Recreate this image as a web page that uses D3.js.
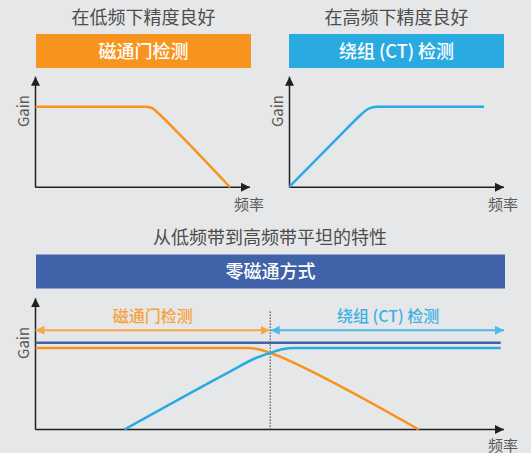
<!DOCTYPE html>
<html>
<head>
<meta charset="utf-8">
<script src="https://cdn.jsdelivr.net/npm/d3@7"></script>
<style>
  html, body { margin: 0; padding: 0; background: #e6e7e8; }
  svg { display: block; }
  text { font-family: "Noto Sans CJK SC", "Noto Sans", sans-serif; }
</style>
</head>
<body>
<div id="chart"></div>
<script>
// ---- data (frequency 0..100, gain 0..100) ----
var panel_titles = ["在低频下精度良好", "在高频下精度良好", "从低频带到高频带平坦的特性"];
var box_labels = ["磁通门检测", "绕组 (CT) 检测", "零磁通方式"];
var range_labels = ["磁通门检测", "绕组 (CT) 检测"];
var axis_labels = { y: "Gain", x: "频率" };

var fluxgate_top = [[0, 72.9], [51, 72.9], [54.3, 71.7], [57.1, 67.2], [67.4, 47.3], [90.7, 0]];
var ct_top = [[0, 0.7], [25.9, 51.4], [32.9, 64.9], [36.6, 70.8], [40.8, 72.9], [90.7, 72.9]];

var zero_flux = [[0, 66.2], [99.3, 66.2]];
var fluxgate_bottom = [[0, 62.1], [45.4, 62.1], [47.9, 61.0], [50.1, 58.3], [52.6, 55.0], [55.4, 50.4], [81.8, 0]];
var ct_bottom = [[19.0, 0], [41.5, 44.1], [46.9, 54.3], [50.1, 58.3], [52.6, 61.1], [55.4, 62.1], [99.3, 62.1]];
var crossover = 50.1;   // frequency where the two methods hand over
var range_end = 100;

var orange = "#f7941d";
var blue = "#29abe2";
var navy = "#4062a8";

var width = 531, height = 453;

var svg = d3.select("#chart").append("svg")
    .attr("width", width)
    .attr("height", height);

svg.append("rect").attr("width", width).attr("height", height).attr("fill", "#e6e7e8");

// arrow heads
var defs = svg.append("defs");
var add_marker = function(id, color, w, h) {
  defs.append("marker")
      .attr("id", id)
      .attr("viewBox", "0 0 10 10")
      .attr("refX", 10)
      .attr("refY", 5)
      .attr("markerUnits", "userSpaceOnUse")
      .attr("markerWidth", w)
      .attr("markerHeight", h)
      .attr("orient", "auto-start-reverse")
    .append("path")
      .attr("d", "M0,0 L10,5 L0,10 Z")
      .attr("fill", color);
}
add_marker("axis-arrow", "#231f20", 9, 10);
add_marker("orange-arrow", "#f8a747", 9, 10);
add_marker("blue-arrow", "#4fb9e7", 9, 10);

// *** PANELS *** //
var panels = [
  { x0: 35.5, x1: 250, y0: 187.3, y1: 76.7, title_x: 143.5, title_y: 24, box: [36, 34, 215, 34], box_color: orange, box_label_y: 58, xlab_y: 209.5 },
  { x0: 289.5, x1: 504, y0: 187.3, y1: 76.7, title_x: 396.5, title_y: 24, box: [289, 34, 215, 34], box_color: blue, box_label_y: 58, xlab_y: 209.5 },
  { x0: 35.5, x1: 504, y0: 429.5, y1: 298.3, title_x: 270, title_y: 244, box: [36, 254.5, 469, 34], box_color: navy, box_label_y: 278, xlab_y: 450.5 }
];

var line = d3.line().curve(d3.curveMonotoneX);

panels.forEach(function(p, i) {
  p.x = d3.scaleLinear().domain([0, 100]).range([p.x0, p.x1]);
  p.y = d3.scaleLinear().domain([0, 100]).range([p.y0, p.y1]);

  svg.append("text")
      .attr("x", p.title_x)
      .attr("y", p.title_y)
      .attr("text-anchor", "middle")
      .attr("font-size", 18)
      .attr("fill", "#4d4d4d")
      .text(panel_titles[i]);

  svg.append("rect")
      .attr("x", p.box[0]).attr("y", p.box[1])
      .attr("width", p.box[2]).attr("height", p.box[3])
      .attr("fill", p.box_color);

  svg.append("text")
      .attr("x", p.box[0] + p.box[2] / 2)
      .attr("y", p.box_label_y)
      .attr("text-anchor", "middle")
      .attr("font-size", 18)
      .attr("font-weight", 500)
      .attr("fill", "#ffffff")
      .text(box_labels[i]);

  // axes
  svg.append("line")
      .attr("x1", p.x(0)).attr("y1", p.y(0))
      .attr("x2", p.x(0)).attr("y2", p.y(100))
      .attr("stroke", "#231f20").attr("stroke-width", 1.5)
      .attr("marker-end", "url(#axis-arrow)");
  svg.append("line")
      .attr("x1", p.x(0)).attr("y1", p.y(0))
      .attr("x2", p.x(100)).attr("y2", p.y(0))
      .attr("stroke", "#231f20").attr("stroke-width", 1.5)
      .attr("marker-end", "url(#axis-arrow)");

  svg.append("text")
      .attr("transform", "translate(" + (p.x0 - 7) + "," + ((p.y0 + p.y1) / 2 - 21) + ") rotate(-90)")
      .attr("text-anchor", "middle")
      .attr("font-size", 15)
      .attr("fill", "#595959")
      .text(axis_labels.y);

  svg.append("text")
      .attr("x", p.x1 - 1)
      .attr("y", p.xlab_y)
      .attr("text-anchor", "middle")
      .attr("font-size", 15)
      .attr("fill", "#595959")
      .text(axis_labels.x);
});

var draw_curve = function(p, data, color) {
  svg.append("path")
      .datum(data)
      .attr("d", line.x(function(d) { return p.x(d[0]); }).y(function(d) { return p.y(d[1]); }))
      .attr("fill", "none")
      .attr("stroke", color)
      .attr("stroke-width", 2.5);
}

draw_curve(panels[0], fluxgate_top, orange);
draw_curve(panels[1], ct_top, blue);

// bottom panel
var pb = panels[2];

svg.append("line")
    .attr("x1", pb.x(crossover)).attr("x2", pb.x(crossover))
    .attr("y1", pb.y(90)).attr("y2", pb.y(0))
    .attr("stroke", "#333333").attr("stroke-width", 1)
    .attr("stroke-dasharray", "1.5,1.5");

draw_curve(pb, zero_flux, navy);
draw_curve(pb, fluxgate_bottom, orange);
draw_curve(pb, ct_bottom, blue);

var arrow_y = pb.y(75.6);
svg.append("line")
    .attr("x1", pb.x(0)).attr("x2", pb.x(crossover) - 0.5)
    .attr("y1", arrow_y).attr("y2", arrow_y)
    .attr("stroke", "#f8a747").attr("stroke-width", 2)
    .attr("marker-start", "url(#orange-arrow)")
    .attr("marker-end", "url(#orange-arrow)");
svg.append("line")
    .attr("x1", pb.x(crossover) + 0.5).attr("x2", pb.x(range_end))
    .attr("y1", arrow_y).attr("y2", arrow_y)
    .attr("stroke", "#4fb9e7").attr("stroke-width", 2)
    .attr("marker-start", "url(#blue-arrow)")
    .attr("marker-end", "url(#blue-arrow)");

svg.append("text")
    .attr("x", pb.x(crossover / 2))
    .attr("y", 322)
    .attr("text-anchor", "middle")
    .attr("font-size", 16)
    .attr("font-weight", 500)
    .attr("fill", "#f6a23c")
    .text(range_labels[0]);
svg.append("text")
    .attr("x", pb.x((crossover + range_end) / 2) + 1)
    .attr("y", 322)
    .attr("text-anchor", "middle")
    .attr("font-size", 16)
    .attr("font-weight", 500)
    .attr("fill", "#3cb1e4")
    .text(range_labels[1]);
</script>
</body>
</html>
